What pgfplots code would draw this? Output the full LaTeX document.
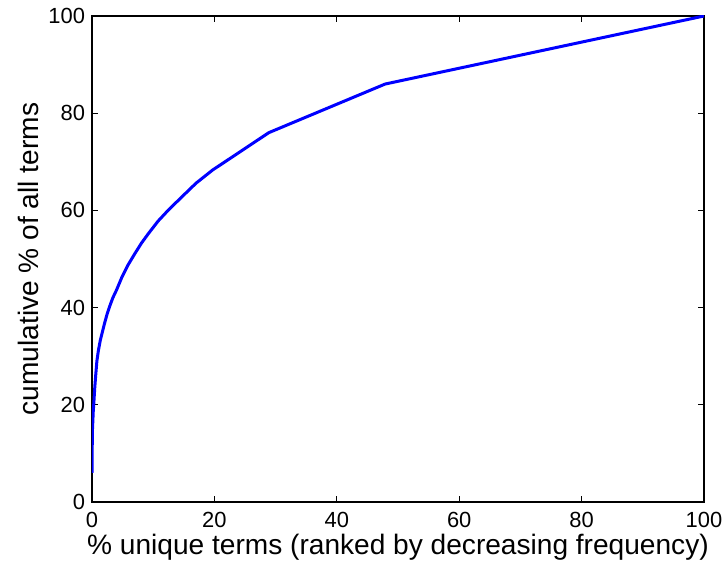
\documentclass[border=0pt]{standalone}
\usepackage{fontspec}
\setmainfont{Liberation Sans}
\usepackage{pgfplots}
\pgfplotsset{compat=1.18}
\usetikzlibrary{calc}
\begin{document}
\begin{tikzpicture}
\begin{axis}[
  scale only axis,
  width=306bp, height=243bp,
  xmin=0, xmax=100, ymin=0, ymax=100,
  xtick={0,20,40,60,80,100},
  ytick={0,20,40,60,80,100},
  tick align=inside,
  major tick length=3bp,
  axis line style={line width=0.6bp},
  tick style={line width=0.5bp, black},
  /pgf/number format/assume math mode=true,
  every tick label/.append style={font=\fontsize{11}{12}\selectfont},
  xticklabel style={yshift=-1.5bp},
  yticklabel style={xshift=0bp},
  label style={font=\fontsize{14.1}{15}\selectfont},
  xlabel={\% unique terms (ranked by decreasing frequency)},
  ylabel={cumulative \% of all terms},
  xlabel style={yshift=3.5bp},
  ylabel style={yshift=-2bp},
]
\addplot[color=blue, line width=1.5bp, line join=round] coordinates {
(0,6) (0.02,10) (0.08,15) (0.2,18.5) (0.33,21) (0.45,23.5) (0.6,26) (0.8,29) (1.05,31.2) (1.36,33.3)
(1.7,35) (2.1,37) (2.5,38.8) (2.9,40.3) (3.4,42) (4,43.6) (4.9,46.3) (5.9,48.8) (7,51.1) (8.1,53.3) (9.2,55.2) (10.8,57.8) (12.5,60.1) (14.7,62.8) (17,65.6)
(19.7,68.3) (28.9,76) (47.9,86) (100,100)
};
\end{axis}
\pgfresetboundingbox
\path[use as bounding box] ($(current axis.south west)+(-46bp,-31bp)$) rectangle ($(current axis.north east)+(10bp,8bp)$);
\end{tikzpicture}
\end{document}
